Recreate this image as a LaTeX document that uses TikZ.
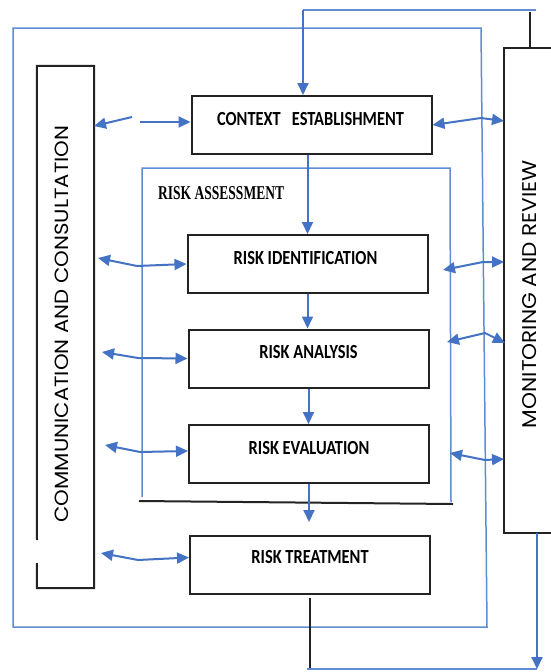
\documentclass[tikz,border=0pt]{standalone}
\usepackage{fontspec}
\usetikzlibrary{arrows.meta}
\newfontfamily\boxfont{Carlito}
\newfontfamily\headfont{Liberation Serif}
\newfontfamily\sidefont{Poppins}
\definecolor{flowblue}{RGB}{68,114,196}
\definecolor{loopblue}{RGB}{95,140,210}
\definecolor{framegray}{RGB}{35,35,35}
\begin{document}
\begin{tikzpicture}[x=1pt,y=-1pt,
  flow/.style={draw=flowblue,line width=2pt},
  loop/.style={draw=loopblue,line width=1.5pt},
  tip/.style={-{Triangle[length=12pt,width=11pt]}},
  twotips/.style={{Triangle[length=12pt,width=11pt]}-{Triangle[length=12pt,width=11pt]}},
  frameline/.style={draw=framegray,line width=2pt},
  stepbox/.style={rectangle,draw=framegray,line width=2pt,minimum width=240pt,minimum height=58pt,inner sep=0pt},
  lbl/.style={inner sep=0pt,font=\boxfont\bfseries\fontsize{20pt}{20pt}\selectfont},
  sidebox/.style={rectangle,inner sep=0pt}
]
\useasboundingbox (0,0) rectangle (551,672);
\fill[white] (0,0) rectangle (551,672);

% process steps
\node[stepbox] (ctx) at (311.5,125) {};
\node[stepbox] (ri) at (307.5,264) {};
\node[stepbox] (ra) at (308.5,358.5) {};
\node[stepbox] (re) at (309,454) {};
\node[stepbox] (rt) at (310,564.5) {};

\node[lbl] (ctxl) at ([xshift=-1pt,yshift=6pt]ctx.center) {\scalebox{0.82}[1]{CONTEXT\ \ \ ESTABLISHMENT}};
\node[lbl] (ril) at ([xshift=-2pt,yshift=6pt]ri.center) {\scalebox{0.82}[1]{RISK IDENTIFICATION}};
\node[lbl] (ral) at ([yshift=6pt]ra.center) {\scalebox{0.82}[1]{RISK ANALYSIS}};
\node[lbl] (rel) at ([yshift=6pt]re.center) {\scalebox{0.82}[1]{RISK EVALUATION}};
\node[lbl] (rtl) at ([yshift=7pt]rt.center) {\scalebox{0.82}[1]{RISK TREATMENT}};

% side columns
\node[sidebox,minimum width=57pt,minimum height=522pt] (comm) at (65.5,327) {};
\coordinate (commgapA) at (37,540);
\coordinate (commgapB) at (37,563);
\draw[frameline] (commgapA) -- (comm.north west) -- (comm.north east) -- (comm.south east) -- (comm.south west) -- (commgapB);
\node[inner sep=0pt,rotate=90] (commtext) at (61.5,324)
  {\resizebox{397pt}{13.5pt}{\sidefont COMMUNICATION AND CONSULTATION}};

\node[sidebox,minimum width=50pt,minimum height=485pt] (mon) at (529,290.5) {};
\draw[frameline] (mon.north east) -- (mon.north west) -- (mon.south west) -- (mon.south east);
\node[inner sep=0pt,rotate=90] (montext) at (530,294)
  {\resizebox{268pt}{14pt}{\sidefont MONITORING AND REVIEW}};

% risk assessment frame
\coordinate (raNW) at (142,168);
\coordinate (raNE) at (450,168);
\coordinate (raSW) at (142,497);
\coordinate (raSE) at (451,502);
\draw[loop] (raSW) -- (raNW) -- (raNE) -- (raSE);
\coordinate (baseL) at (139,501);
\coordinate (baseR) at (453,504);
\draw[frameline] (baseL) -- (baseR);
\node[inner sep=0pt,anchor=west,font=\headfont\bfseries\fontsize{19.6pt}{20pt}\selectfont] (ratitle) at (158,193.5)
  {\scalebox{0.69}[1]{RISK ASSESSMENT}};

% outer feedback loop
\coordinate (loopNW) at (13,28);
\coordinate (loopNE) at (481,28);
\coordinate (loopSE) at (487,627);
\coordinate (loopSW) at (13,627);
\draw[loop] (loopNW) -- (loopNE) -- (loopSE) -- (loopSW) -- cycle;

% feedback from monitoring into context
\coordinate (topR) at (536,10);
\coordinate (topL) at (303,10);
\draw[loop] (topR) -- (topL);
\draw[flow,tip] (topL) -- (topL |- ctx.north);
\coordinate (monlinkA) at (530,12);
\draw[frameline,line width=1.4pt] (monlinkA) -- (monlinkA |- mon.north);

% main sequence
\draw[flow,tip] (ri.north |- ctx.south) -- (ri.north);
\draw[flow,tip] (ri.south) -- (ri.south |- ra.north);
\draw[flow,tip] (ra.south) -- (ra.south |- re.north);
\coordinate (reout) at (309,522);
\draw[flow,tip] (re.south) -- (reout);

% treatment output to monitoring
\coordinate (rtoutA) at (310,598);
\coordinate (rtoutB) at (310,668);
\draw[frameline,line width=1.4pt] (rtoutA) -- (rtoutB);
\coordinate (botL) at (307,669);
\coordinate (botR) at (537,669);
\draw[loop] (botL) -- (botR);
\draw[flow,tip] (botR |- mon.south) -- (botR);

% communication links
\coordinate (cA) at (132,117);
\coordinate (cAt) at (94,126);
\coordinate (cB) at (140,122);
\draw[flow,tip] (cA) -- (cAt);
\draw[flow,tip] (cB) -- (cB -| ctx.west);
\coordinate (l1a) at (98,258);   \coordinate (l1b) at (137,266);
\coordinate (l2a) at (102,352);  \coordinate (l2b) at (138,358);
\coordinate (l3a) at (105,445);  \coordinate (l3b) at (140,452);
\coordinate (l4a) at (101,553);  \coordinate (l4b) at (138,560);
\draw[flow,twotips] (l1a) -- (l1b) -- (ri.west);
\draw[flow,twotips] (l2a) -- (l2b) -- (ra.west);
\draw[flow,twotips] (l3a) -- (l3b) -- ([yshift=3pt]re.west);
\draw[flow,twotips] (l4a) -- (l4b) -- ([yshift=7pt]rt.west);

% monitoring links
\coordinate (m0b) at (481,118);  \coordinate (m0c) at (504,121);
\coordinate (m1a) at (443,270);  \coordinate (m1b) at (483,262);  \coordinate (m1c) at (504,262);
\coordinate (m2a) at (447,342);  \coordinate (m2b) at (485,333);  \coordinate (m2c) at (505,343);
\coordinate (m3a) at (450,453);  \coordinate (m3b) at (485,460);  \coordinate (m3c) at (504,459);
\draw[flow,twotips] (ctx.east) -- (m0b) -- (m0c);
\draw[flow,twotips] (m1a) -- (m1b) -- (m1c);
\draw[flow,twotips] (m2a) -- (m2b) -- (m2c);
\draw[flow,twotips] (m3a) -- (m3b) -- (m3c);
\end{tikzpicture}
\end{document}
